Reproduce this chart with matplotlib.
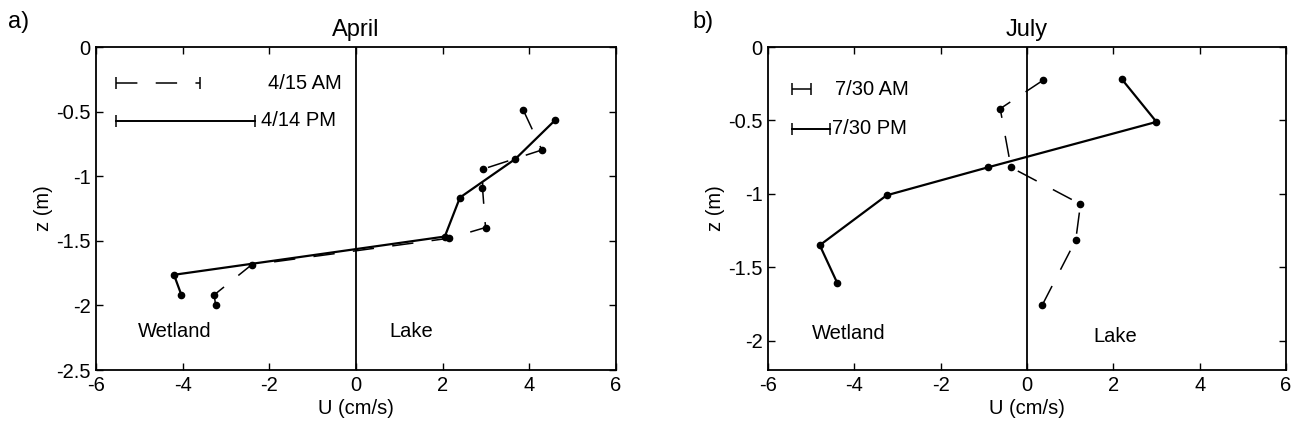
import numpy as np
import matplotlib
matplotlib.use("Agg")
import matplotlib.pyplot as plt

plt.rcParams['font.family'] = ['Liberation Sans', 'DejaVu Sans']
plt.rcParams['axes.unicode_minus'] = False

# Panel a) April profiles (U in cm/s, z in m)
april_pm_u = [4.6, 3.68, 2.4, 2.05, -4.2, -4.03]
april_pm_z = [-0.565, -0.866, -1.165, -1.467, -1.763, -1.918]
april_am_u = [3.86, 4.29, 2.94, 2.92, 2.99, 2.15, -2.41, -3.27, -3.24]
april_am_z = [-0.487, -0.797, -0.944, -1.088, -1.397, -1.48, -1.686, -1.918, -2.0]

# Panel b) July profiles
july_pm_u = [2.2, 3.0, -0.91, -3.25, -4.8, -4.39]
july_pm_z = [-0.22, -0.51, -0.82, -1.01, -1.35, -1.61]
july_am_u = [0.38, -0.62, -0.37, 1.24, 1.13, 0.35]
july_am_z = [-0.225, -0.42, -0.82, -1.07, -1.315, -1.76]

# scale bars shown in the legend area (x start, x end, z)
april_bars = {'4/15 AM': (-5.54, -3.6, -0.28), '4/14 PM': (-5.54, -2.33, -0.57)}
july_bars = {'7/30 AM': (-5.45, -5.01, -0.286), '7/30 PM': (-5.45, -4.56, -0.556)}

FS = 14.5
DASH = (14, 12)

fig = plt.figure(figsize=(12.97, 4.37), dpi=100)
ax1 = fig.add_axes([0.0740, 0.1533, 0.4009, 0.7391])
ax2 = fig.add_axes([0.5921, 0.1533, 0.3994, 0.7391])


def style(ax, ylim, yticks):
    ax.set_xlim(-6, 6)
    ax.set_ylim(ylim, 0)
    ax.set_xticks(np.arange(-6, 7, 2))
    ax.set_yticks(yticks)
    ax.set_xticklabels([f"{v:g}" for v in np.arange(-6, 7, 2)])
    ax.set_yticklabels([f"{v:g}" for v in yticks])
    ax.tick_params(direction='in', length=5, width=1, top=True, right=True,
                   labelsize=FS, pad=4)
    for s in ax.spines.values():
        s.set_linewidth(1.3)
    ax.axvline(0, color='black', lw=1.3)
    ax.set_xlabel('U (cm/s)', fontsize=FS, labelpad=3)
    ax.set_ylabel('z (m)', fontsize=FS, labelpad=2)


def bars(ax, d, text_x):
    for i, (lab, (x0, x1, z)) in enumerate(d.items()):
        if i == 0:
            ax.plot([x0, x1], [z, z], color='black', lw=1.1, dashes=DASH)
        else:
            ax.plot([x0, x1], [z, z], color='black', lw=1.4)
        ax.plot([x0, x1], [z, z], ls='none', marker='|', color='black',
                markersize=9, mew=1.1)
        ax.text(text_x[i], z, lab, fontsize=FS, va='center', ha='left')


# a) April
style(ax1, -2.5, [0, -0.5, -1, -1.5, -2, -2.5])
ax1.plot(april_pm_u, april_pm_z, color='black', lw=1.6, marker='o', markersize=4.5)
ax1.plot(april_am_u, april_am_z, color='black', lw=1.1, dashes=DASH,
         marker='o', markersize=4.5)
bars(ax1, april_bars, [-2.03, -2.2])
ax1.text(-5.03, -2.2, 'Wetland', fontsize=FS, va='center')
ax1.text(0.78, -2.2, 'Lake', fontsize=FS, va='center')
ax1.set_title('April', fontsize=17, pad=8)

# b) July
style(ax2, -2.2, [0, -0.5, -1, -1.5, -2])
ax2.plot(july_pm_u, july_pm_z, color='black', lw=1.6, marker='o', markersize=4.5)
ax2.plot(july_am_u, july_am_z, color='black', lw=1.1, dashes=DASH,
         marker='o', markersize=4.5)
bars(ax2, july_bars, [-4.44, -4.51])
ax2.text(-4.98, -1.95, 'Wetland', fontsize=FS, va='center')
ax2.text(1.53, -1.97, 'Lake', fontsize=FS, va='center')
ax2.set_title('July', fontsize=17, pad=8)

fig.text(8 / 1297, 1 - 22 / 437, 'a)', fontsize=17, va='center', ha='left')
fig.text(692 / 1297, 1 - 22 / 437, 'b)', fontsize=17, va='center', ha='left')

fig.savefig('out.png', dpi=100)
